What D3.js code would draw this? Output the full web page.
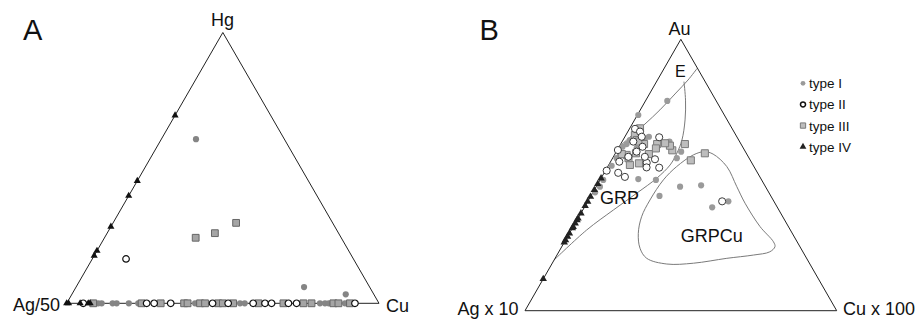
<!DOCTYPE html>
<html><head><meta charset="utf-8">
<script src="https://cdn.jsdelivr.net/npm/d3@7"></script>
<style>body{margin:0;background:#fff} text{font-family:"Liberation Sans",Arial,sans-serif;fill:#111}</style>
</head><body><svg id="c" width="917" height="322"></svg>
<script>
// ---- DATA: ternary compositions as [top %, right %] (left = 100 - top - right) ----
// Panel A: top = Hg, left = Ag/50, right = Cu
const aVertexLabels = ["Hg", "Ag/50", "Cu"];
const aTypeI   = [[60.6,11.1],[6.0,73.0],[3.3,87.7],
  [0,10.1],[0,11.2],[0,14.7],[0,16.0],[0,19.9],[0,22.9],[0,41.1],[0,55.5],[0,57.0],[0,81.1],[0,82.7],[0,83.9],[0,89.1]];
const aTypeII  = [[16.4,10.8],
  [0,5.3],[0,25.6],[0,28.0],[0,33.3],[0,46.7],[0,51.7],[0,59.7],[0,63.5],[0,65.6],[0,71.0],[0,73.6],[0,92.3]];
const aTypeIII = [[24.2,29.2],[25.9,34.5],[29.7,39.4],
  [0,8.5],[0,24.0],[0,30.1],[0,37.6],[0,38.7],[0,42.7],[0,44.3],[0,48.5],[0,50.0],[0,53.3],[0,61.4],[0,69.4],[0,75.8],[0,78.4],[0,85.4],[0,87.0],[0,90.7]];
const aTypeIV  = [[69.4,0],[45.2,0],[39.7,0],[28.3,0],[19.4,0],[17.6,0],
  [0,0],[0,0.6],[0,4.3],[0,6.9],[0,7.5]];

// Panel B: top = Au, left = Ag x 10, right = Cu x 100
const bVertexLabels = ["Au", "Ag x 10", "Cu x 100"];
const bTypeI   = [[77.3,7.0],[72.1,0.3],[64.1,7.7],[62.3,15.2],[58.6,20.8],[56.2,20.6],[48.5,12.1],[48.2,17.9],
  [42.3,22.0],[45.7,26.9],[46.2,33.4],[38.1,41.0],[40.3,45.1],
  [60.4,1.1],[61.4,1.9],[56.2,1.3],[53.4,1.1],[48.2,1.0],[45.7,1.2],[43.6,0.7],[62.9,2.2],[63.5,6.7],[59.8,5.9],[57.7,1.6]];
const bTypeII  = [[40.3,43.1],
  [67.0,1.8],[66.0,3.9],[63.9,11.1],[64.1,5.4],[62.3,3.6],[55.8,13.8],[54.5,11.8],[52.7,16.7],[50.8,4.5],[49.3,7.4],
  [51.6,0.4],[54.9,2.8],[58.6,6.5],[56.7,10.1],[60.4,7.5],[56.7,4.8],[59.2,0.2],[52.8,12.6]];
const bTypeIII = [[58.0,28.7],[55.4,25.5],[61.4,20.6],[59.1,17.7],[60.8,16.1],[61.7,14.1],[61.4,11.7],[57.7,10.9],
  [61.4,7.5],[67.2,3.3],[64.7,2.9],[62.9,4.4],[57.4,3.9],[54.3,9.4],[53.7,6.8],[57.7,2.2],[62.3,5.2],[58.0,6.6],[59.8,12.1],[56.2,5.1]];
const bTypeIV  = [[48.8,0],[46.7,0],[44.5,0],[42.0,0],[40.2,0],[38.6,0],[35.9,0],[34.0,0],[33.4,0],[32.2,0],
  [30.9,0],[30.4,0],[28.5,0],[27.3,0],[26.0,0],[25.2,0],[11.7,0]];

// Field boundaries in panel B
const bLineE = [[89.3,10.6],[85.0,9.8],[80.2,8.3],[74.0,6.3],[68.8,4.1],[64.0,1.7],[60.3,0]];
const bLineGRP = [[84.4,8.8],[77.6,12.7],[70.3,16.2],[62.9,18.9],[58.1,19.7],[53.7,19.7],[48.9,17.9],[43.3,14.2],[37.1,9.8],[29.7,4.9],[18.7,0]];
const bFieldGRPCu = [[58.6,28.2],[57.7,31.5],[53.1,38.2],[45.7,45.1],[39.6,50.8],[31.0,59.9],[25.4,67.0],[23.6,68.4],[21.7,67.7],
  [20.5,63.0],[19.3,55.1],[17.5,45.3],[17.2,36.9],[19.3,29.4],[23.0,25.4],[28.5,22.1],[34.6,20.1],[40.8,19.7],[48.2,20.3],[53.1,22.1],[57.4,25.3]];
const bFieldLabels = [["E",[86.0,5.1]],["GRP",[39.3,4.4]],["GRPCu",[25.4,37.3]]];

const legendLabels = ["type I", "type II", "type III", "type IV"];

// ---- DRAWING ----
const svg = d3.select("#c");

function ternary(blx, bly, brx, topy) {
  const xs = d3.scaleLinear().domain([0, 100]).range([blx, brx]);
  const ys = d3.scaleLinear().domain([0, 100]).range([bly, topy]);
  return d => [xs(d[1] + d[0] / 2), ys(d[0])];
}

const stylesA = {
  I:   {sym: d3.symbolCircle, fill: "#858585", stroke: "none", sw: 0},
  II:  {sym: d3.symbolCircle, fill: "#fff", stroke: "#111", sw: 1.2},
  III: {sym: d3.symbolSquare, fill: "#a5a5a5", stroke: "#666", sw: 1},
  IV:  {sym: d3.symbolTriangle, fill: "#111", stroke: "none", sw: 0}
};
const stylesB = {
  I:   {sym: d3.symbolCircle, fill: "#9a9a9a", stroke: "none", sw: 0},
  II:  {sym: d3.symbolCircle, fill: "#fff", stroke: "#3a3a3a", sw: 1},
  III: {sym: d3.symbolSquare, fill: "#bdbdbd", stroke: "#7a7a7a", sw: 1},
  IV:  {sym: d3.symbolTriangle, fill: "#222", stroke: "none", sw: 0}
};

function drawPanel(g, proj, styles, series, sizes, labelPos) {
  const verts = [[100, 0], [0, 0], [0, 100]].map(proj);
  g.append("path").attr("d", d3.line()(verts) + "Z")
    .attr("fill", "none").attr("stroke", "#222").attr("stroke-width", 1);
  series.forEach(([key, data]) => {
    const st = styles[key];
    g.append("g").selectAll("path").data(data).join("path")
      .attr("transform", d => { const p = proj(d); return `translate(${p[0]},${p[1]})`; })
      .attr("d", d3.symbol().type(st.sym).size(sizes[key]))
      .attr("fill", st.fill).attr("stroke", st.stroke).attr("stroke-width", st.sw);
  });
  labelPos.forEach(([txt, x, y, anchor]) => {
    g.append("text").attr("x", x).attr("y", y).attr("text-anchor", anchor)
      .attr("font-size", 18).text(txt);
  });
}

// Panel A
const projA = ternary(66.7, 303.3, 379, 32.5);
const gA = svg.append("g");
svg.append("text").attr("x", 23).attr("y", 39.5).attr("font-size", 29).text("A");
drawPanel(gA, projA, stylesA,
  [["I", aTypeI], ["III", aTypeIII], ["II", aTypeII], ["IV", aTypeIV]],
  {I: 30, II: 34, III: 46, IV: 22},
  [[aVertexLabels[0], 222.5, 25.5, "middle"], [aVertexLabels[1], 60, 311, "end"], [aVertexLabels[2], 386, 311.5, "start"]]);

// Panel B
const projB = ternary(525, 310.7, 836.7, 39.3);
const gB = svg.append("g");
svg.append("text").attr("x", 479.5).attr("y", 39.5).attr("font-size", 29).text("B");
const lineGen = d3.line().curve(d3.curveCatmullRom.alpha(0.5));
gB.append("path").attr("d", lineGen(bLineE.map(projB))).attr("fill", "none").attr("stroke", "#7a7a7a").attr("stroke-width", 1);
gB.append("path").attr("d", lineGen(bLineGRP.map(projB))).attr("fill", "none").attr("stroke", "#7a7a7a").attr("stroke-width", 1);
gB.append("path").attr("d", d3.line().curve(d3.curveCatmullRomClosed.alpha(0.5))(bFieldGRPCu.map(projB)))
  .attr("fill", "none").attr("stroke", "#7a7a7a").attr("stroke-width", 1);
drawPanel(gB, projB, stylesB,
  [["I", bTypeI], ["III", bTypeIII], ["II", bTypeII], ["IV", bTypeIV]],
  {I: 30, II: 40, III: 50, IV: 24},
  [[bVertexLabels[0], 679.5, 35, "middle"], [bVertexLabels[1], 518.5, 315, "end"], [bVertexLabels[2], 843, 315, "start"]]);
bFieldLabels.forEach(([txt, d]) => {
  const p = projB(d);
  gB.append("text").attr("x", p[0]).attr("y", p[1]).attr("text-anchor", "start")
    .attr("font-size", txt === "E" ? 16 : 18).text(txt);
});

// Legend
const legY = d3.scalePoint().domain(legendLabels).range([83.3, 146.7]);
const legKeys = ["I", "II", "III", "IV"];
const legSizes = {I: 18, II: 20, III: 28, IV: 20};
const leg = svg.append("g");
legendLabels.forEach((lab, i) => {
  const st = stylesB[legKeys[i]];
  leg.append("path").attr("transform", `translate(803,${legY(lab)})`)
    .attr("d", d3.symbol().type(st.sym).size(legSizes[legKeys[i]])())
    .attr("fill", st.fill).attr("stroke", legKeys[i] === "II" ? "#111" : st.stroke)
    .attr("stroke-width", legKeys[i] === "II" ? 1.5 : st.sw);
  leg.append("text").attr("x", 809).attr("y", legY(lab) + 5).attr("font-size", 13.5).text(lab);
});
</script></body></html>
